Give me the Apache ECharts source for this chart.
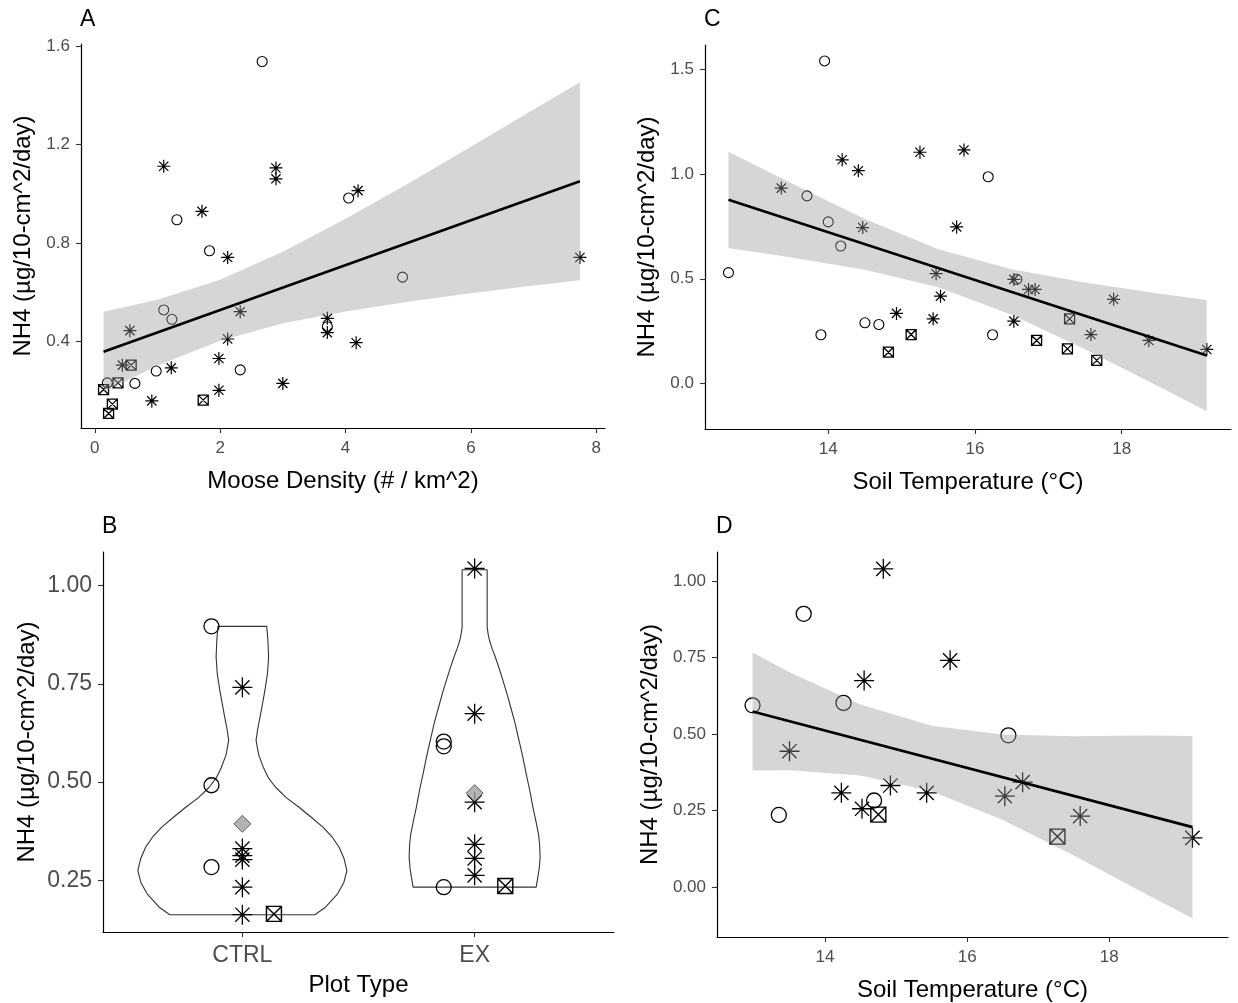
<!DOCTYPE html>
<html>
<head>
<meta charset="utf-8">
<script src="https://cdn.jsdelivr.net/npm/echarts@6/dist/echarts.min.js"></script>
<style>
  html, body { margin: 0; padding: 0; background: #fff; }
  #main { width: 1238px; height: 1003px; }
</style>
</head>
<body>
<div id="main"></div>
<script>
// ---------- panel A : moose density ----------
var aCircleX = [2.67, 1.31, 1.83, 4.05, 4.91, 1.10, 1.23, 0.98, 2.32, 0.64, 0.20, 3.71];
var aCircleY = [1.537, 0.895, 0.769, 0.983, 0.662, 0.529, 0.491, 0.281, 0.286, 0.231, 0.233, 0.461];
var aStarX = [1.10, 2.89, 2.89, 4.20, 1.71, 2.12, 7.74, 0.56, 2.32, 3.71, 3.71, 2.12, 4.17, 1.98, 1.22, 0.44, 1.98, 3.00, 0.91];
var aStarY = [1.112, 1.105, 1.061, 1.013, 0.929, 0.742, 0.742, 0.445, 0.522, 0.495, 0.437, 0.411, 0.396, 0.332, 0.294, 0.305, 0.203, 0.231, 0.160];
var aBoxX = [0.58, 0.37, 0.14, 0.28, 0.22, 1.73];
var aBoxY = [0.305, 0.233, 0.206, 0.147, 0.109, 0.163];
var aBandX = [0.14, 1, 2, 3, 4, 5, 6, 7, 7.74];
var aBandHi = [0.522, 0.570, 0.652, 0.765, 0.899, 1.042, 1.191, 1.342, 1.453];
var aBandLo = [0.196, 0.304, 0.404, 0.475, 0.523, 0.562, 0.597, 0.628, 0.649];
var aFitX = [0.14, 7.74];
var aFitY = [0.359, 1.051];
var aTicksX = [0, 2, 4, 6, 8];
var aTicksY = [0.4, 0.8, 1.2, 1.6];

// ---------- panel C : soil temperature ----------
var cCircleX = [13.95, 16.18, 13.71, 14.00, 14.17, 12.64, 16.57, 14.50, 14.69, 13.90, 16.24];
var cCircleY = [1.538, 0.986, 0.895, 0.771, 0.656, 0.529, 0.497, 0.290, 0.282, 0.233, 0.233];
var cStarX = [15.25, 15.85, 14.19, 14.41, 13.36, 14.47, 15.75, 15.47, 15.53, 14.93, 15.43, 16.53, 16.53, 16.73, 16.82, 17.89, 17.58, 18.37, 19.16];
var cStarY = [1.103, 1.114, 1.067, 1.015, 0.932, 0.744, 0.747, 0.524, 0.417, 0.335, 0.309, 0.298, 0.497, 0.449, 0.449, 0.402, 0.234, 0.206, 0.163];
var cBoxX = [17.29, 15.13, 14.82, 16.84, 17.26, 17.66];
var cBoxY = [0.309, 0.234, 0.150, 0.206, 0.166, 0.111];
var cBandX = [12.64, 13.5, 14.5, 15.5, 16.5, 17.5, 18.5, 19.16];
var cBandHi = [1.105, 0.955, 0.785, 0.641, 0.545, 0.482, 0.430, 0.399];
var cBandLo = [0.647, 0.601, 0.543, 0.459, 0.329, 0.164, -0.012, -0.131];
var cFitX = [12.64, 19.16];
var cFitY = [0.876, 0.134];
var cTicksX = [14, 16, 18];
var cTicksY = [0.0, 0.5, 1.0, 1.5];

// ---------- panel B : plot type violins ----------
var bCats = ['CTRL', 'EX'];
var bCtrlVioY = [0.896, 0.86, 0.818, 0.775, 0.733, 0.70, 0.665, 0.635, 0.606, 0.57, 0.538, 0.51, 0.487, 0.46, 0.436, 0.41, 0.385, 0.36, 0.335, 0.305, 0.275, 0.245, 0.216, 0.182, 0.163];
var bCtrlVioW = [0.105, 0.110, 0.113, 0.108, 0.097, 0.087, 0.076, 0.066, 0.059, 0.070, 0.090, 0.113, 0.143, 0.190, 0.244, 0.298, 0.348, 0.387, 0.416, 0.438, 0.450, 0.437, 0.410, 0.358, 0.312];
var bExVioY = [1.040, 0.894, 0.877, 0.860, 0.84, 0.818, 0.79, 0.758, 0.725, 0.691, 0.65, 0.606, 0.565, 0.521, 0.48, 0.436, 0.40, 0.368, 0.34, 0.309, 0.28, 0.258, 0.233];
var bExVioW = [0.054, 0.054, 0.058, 0.064, 0.075, 0.089, 0.105, 0.122, 0.139, 0.155, 0.174, 0.191, 0.207, 0.222, 0.237, 0.251, 0.264, 0.275, 0.280, 0.282, 0.278, 0.272, 0.265];
var bCircleX = [0.867, 0.867, 0.867, 1.867, 1.867, 1.867];
var bCircleY = [0.896, 0.492, 0.284, 0.603, 0.591, 0.233];
var bStarX = [1, 1, 1, 1, 1, 1, 2, 2, 2, 2, 2, 2];
var bStarY = [0.741, 0.331, 0.313, 0.303, 0.233, 0.163, 1.043, 0.674, 0.449, 0.342, 0.306, 0.263];
var bBoxX = [1.136, 2.132];
var bBoxY = [0.165, 0.236];
var bMeanX = [1, 2];
var bMeanY = [0.394, 0.472];
var bTicksY = [0.25, 0.50, 0.75, 1.00];

// ---------- panel D : soil temperature (subset) ----------
var dCircleX = [13.70, 12.98, 14.26, 16.58, 13.35, 14.69];
var dCircleY = [0.893, 0.594, 0.602, 0.496, 0.236, 0.283];
var dStarX = [14.82, 15.76, 14.55, 13.50, 14.23, 14.52, 14.92, 15.43, 16.53, 16.78, 17.59, 19.17];
var dStarY = [1.040, 0.741, 0.675, 0.444, 0.308, 0.256, 0.332, 0.308, 0.297, 0.343, 0.232, 0.161];
var dBoxX = [14.75, 17.27];
var dBoxY = [0.237, 0.165];
var dBandX = [12.98, 13.5, 14.5, 15.5, 16.5, 17.5, 18.5, 19.17];
var dBandHi = [0.767, 0.702, 0.597, 0.527, 0.499, 0.493, 0.495, 0.494];
var dBandLo = [0.381, 0.382, 0.365, 0.313, 0.219, 0.103, -0.021, -0.102];
var dFitX = [12.98, 19.17];
var dFitY = [0.574, 0.196];
var dTicksX = [14, 16, 18];
var dTicksY = [0.00, 0.25, 0.50, 0.75, 1.00];

var FONT = '"Liberation Sans", Arial, sans-serif';
var YTITLE = 'NH4 (µg/10-cm^2/day)';
var STAR = 'path://M0,-1L0,1M-1,0L1,0M-0.71,-0.71L0.71,0.71M-0.71,0.71L0.71,-0.71';
var BOX = 'path://M-1,-1L1,-1L1,1L-1,1ZM-1,-1L1,1M-1,1L1,-1';

function zip(xs, ys) {
  return xs.map(function (x, i) { return [x, ys[i]]; });
}

function xAx(gi, min, max, ticks, fmt, name, fs, gap) {
  return {
    type: 'value', gridIndex: gi, min: min, max: max,
    name: name, nameLocation: 'middle', nameGap: gap,
    nameTextStyle: { color: '#000', fontSize: 24, fontFamily: FONT },
    axisLine: { onZero: false, lineStyle: { color: '#000', width: 1.2 } },
    axisTick: { customValues: ticks, length: 5, lineStyle: { color: '#333', width: 1.1 } },
    axisLabel: { customValues: ticks, formatter: fmt, margin: 12, color: '#4D4D4D', fontSize: fs, fontFamily: FONT },
    splitLine: { show: false }
  };
}

function yAx(gi, min, max, ticks, dec, fs, gap) {
  return {
    type: 'value', gridIndex: gi, min: min, max: max,
    name: YTITLE, nameLocation: 'middle', nameGap: gap,
    nameTextStyle: { color: '#000', fontSize: 24, fontFamily: FONT },
    axisLine: { onZero: false, lineStyle: { color: '#000', width: 1.2 } },
    axisTick: { customValues: ticks, length: 5, lineStyle: { color: '#333', width: 1.1 } },
    axisLabel: { customValues: ticks, formatter: function (v) { return v.toFixed(dec); }, margin: 11, color: '#4D4D4D', fontSize: fs, fontFamily: FONT },
    splitLine: { show: false }
  };
}

function pts(gi, xs, ys, symbol, size, bw) {
  return {
    type: 'scatter', xAxisIndex: gi, yAxisIndex: gi, z: 2, silent: true,
    symbol: symbol, symbolSize: size,
    itemStyle: { color: 'rgba(0,0,0,0)', borderColor: '#000', borderWidth: bw, opacity: 1 },
    data: zip(xs, ys)
  };
}

function band(gi, xs, hi, lo) {
  return {
    type: 'custom', xAxisIndex: gi, yAxisIndex: gi, z: 3, silent: true,
    data: [[xs[0], hi[0]]],
    renderItem: function (params, api) {
      var p = [];
      for (var k = 0; k < xs.length; k++) p.push(api.coord([xs[k], hi[k]]));
      for (var k = xs.length - 1; k >= 0; k--) p.push(api.coord([xs[k], lo[k]]));
      return { type: 'polygon', shape: { points: p }, style: { fill: 'rgba(153,153,153,0.4)' } };
    }
  };
}

function fit(gi, xs, ys) {
  return {
    type: 'line', xAxisIndex: gi, yAxisIndex: gi, z: 4, silent: true,
    symbol: 'none', lineStyle: { color: '#000', width: 2.6 },
    data: zip(xs, ys)
  };
}

function violin(gi, cx, ys, ws) {
  return {
    type: 'custom', xAxisIndex: gi, yAxisIndex: gi, z: 1, silent: true,
    data: [[cx, ys[0]]],
    renderItem: function (params, api) {
      var p = [];
      for (var k = 0; k < ys.length; k++) p.push(api.coord([cx + ws[k], ys[k]]));
      for (var k = ys.length - 1; k >= 0; k--) p.push(api.coord([cx - ws[k], ys[k]]));
      return { type: 'polygon', shape: { points: p }, style: { fill: 'none', stroke: '#333', lineWidth: 1.1, lineJoin: 'round' } };
    }
  };
}

var chart = echarts.init(document.getElementById('main'));
chart.setOption({
  backgroundColor: '#fff',
  animation: false,
  grid: [
    { left: 81, top: 44, width: 524, height: 384 },
    { left: 705, top: 45, width: 526, height: 384 },
    { left: 103, top: 552, width: 511, height: 380 },
    { left: 717, top: 552, width: 511, height: 386 }
  ],
  xAxis: [
    xAx(0, -0.22, 8.14, aTicksX, function (v) { return String(v); }, 'Moose Density (# / km^2)', 17, 41),
    xAx(1, 12.32, 19.49, cTicksX, function (v) { return String(v); }, 'Soil Temperature (°C)', 17, 41),
    xAx(2, 0.4, 2.6, [1, 2], function (v) { return bCats[Math.round(v) - 1]; }, 'Plot Type', 23, 41),
    xAx(3, 12.48, 19.67, dTicksX, function (v) { return String(v); }, 'Soil Temperature (°C)', 17, 41)
  ],
  yAxis: [
    yAx(0, 0.05, 1.608, aTicksY, 1, 17, 46),
    yAx(1, -0.216, 1.614, cTicksY, 1, 17, 46),
    yAx(2, 0.119, 1.085, bTicksY, 2, 23, 64),
    yAx(3, -0.163, 1.095, dTicksY, 2, 17, 55)
  ],
  graphic: [
    { type: 'text', left: 80, top: 8, style: { text: 'A', fontSize: 23, fontFamily: FONT, fill: '#000' } },
    { type: 'text', left: 704, top: 8, style: { text: 'C', fontSize: 23, fontFamily: FONT, fill: '#000' } },
    { type: 'text', left: 102, top: 515, style: { text: 'B', fontSize: 23, fontFamily: FONT, fill: '#000' } },
    { type: 'text', left: 716, top: 515, style: { text: 'D', fontSize: 23, fontFamily: FONT, fill: '#000' } }
  ],
  series: [
    pts(0, aCircleX, aCircleY, 'circle', 10, 1.1),
    pts(0, aStarX, aStarY, STAR, 13, 1.2),
    pts(0, aBoxX, aBoxY, BOX, 10, 1.3),
    band(0, aBandX, aBandHi, aBandLo),
    fit(0, aFitX, aFitY),

    pts(1, cCircleX, cCircleY, 'circle', 10, 1.1),
    pts(1, cStarX, cStarY, STAR, 13, 1.2),
    pts(1, cBoxX, cBoxY, BOX, 10, 1.3),
    band(1, cBandX, cBandHi, cBandLo),
    fit(1, cFitX, cFitY),

    violin(2, 1, bCtrlVioY, bCtrlVioW),
    violin(2, 2, bExVioY, bExVioW),
    pts(2, bCircleX, bCircleY, 'circle', 15, 1.3),
    pts(2, bStarX, bStarY, STAR, 20, 1.3),
    pts(2, bBoxX, bBoxY, BOX, 15, 1.4),
    {
      type: 'scatter', xAxisIndex: 2, yAxisIndex: 2, z: 3, silent: true,
      symbol: 'diamond', symbolSize: [17, 17],
      itemStyle: { color: '#A0A0A0', borderColor: '#444', borderWidth: 1 },
      data: zip(bMeanX, bMeanY)
    },

    pts(3, dCircleX, dCircleY, 'circle', 15, 1.3),
    pts(3, dStarX, dStarY, STAR, 20, 1.3),
    pts(3, dBoxX, dBoxY, BOX, 15, 1.4),
    band(3, dBandX, dBandHi, dBandLo),
    fit(3, dFitX, dFitY)
  ]
});
</script>
</body>
</html>
